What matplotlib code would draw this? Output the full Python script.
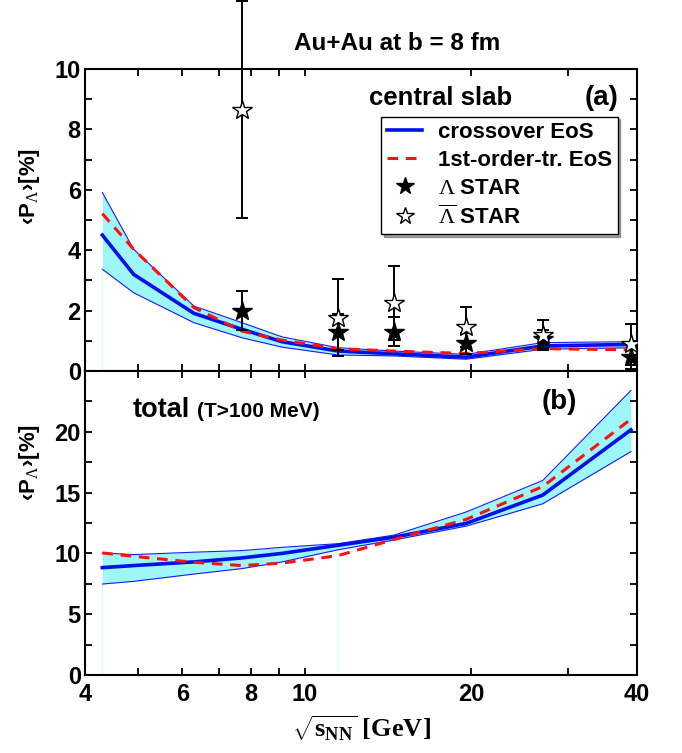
import matplotlib
matplotlib.use('Agg')
import matplotlib.pyplot as plt
from matplotlib.lines import Line2D
from matplotlib.ticker import FixedLocator, NullFormatter, FixedFormatter, MultipleLocator

plt.rcParams['font.family'] = ['Liberation Sans', 'DejaVu Sans']
plt.rcParams['mathtext.fontset'] = 'custom'
plt.rcParams['mathtext.rm'] = 'Liberation Serif'
plt.rcParams['mathtext.it'] = 'Liberation Serif:italic'
plt.rcParams['mathtext.bf'] = 'Liberation Sans:bold'
plt.rcParams['mathtext.sf'] = 'Liberation Serif:bold'

# ---------------- data ----------------
energy = [4.3, 4.9, 6.3, 7.7, 9.1, 11.5, 14.5, 19.6, 27, 39]

# panel (a): central slab
slab_cross = [4.50, 3.20, 1.91, 1.38, 0.97, 0.66, 0.57, 0.46, 0.83, 0.88]
slab_hi    = [5.91, 4.03, 2.15, 1.60, 1.13, 0.77, 0.66, 0.55, 0.94, 0.97]
slab_lo    = [3.37, 2.59, 1.60, 1.10, 0.79, 0.53, 0.50, 0.39, 0.72, 0.77]
slab_first = [5.21, 4.03, 2.10, 1.32, 1.02, 0.74, 0.66, 0.58, 0.74, 0.70]

# panel (b): total (T>100 MeV)
total_cross = [8.83, 9.00, 9.30, 9.63, 10.00, 10.67, 11.33, 12.46, 14.80, 20.16]
total_hi    = [10.04, 9.90, 10.10, 10.23, 10.50, 10.80, 11.50, 13.40, 16.00, 23.40]
total_lo    = [7.48, 7.70, 8.30, 8.75, 9.30, 10.30, 11.10, 12.24, 14.08, 18.37]
total_first = [10.04, 9.76, 9.27, 9.00, 9.20, 9.82, 11.14, 12.79, 15.50, 21.04]

# STAR data
star_energy = [7.7, 11.5, 14.5, 19.6, 27, 39]
lam_P   = [2.0, 1.30, 1.30, 0.92, 1.05, 0.46]
lam_err = [0.65, 0.60, 0.48, 0.35, 0.30, 0.40]
alam_P   = [8.65, 1.77, 2.25, 1.45, 1.18, 0.88]
alam_err = [3.6, 1.27, 1.22, 0.67, 0.50, 0.67]

xticks = [4, 6, 8, 10, 20, 40]
xminor = [5, 7, 9, 30]

# ---------------- figure ----------------
fig = plt.figure(figsize=(6.82, 7.53), dpi=100)
L, R = 85 / 682, 637 / 682
ax1 = fig.add_axes([L, 1 - 371 / 753, R - L, (371 - 69) / 753])
ax2 = fig.add_axes([L, 1 - 675 / 753, R - L, (675 - 371) / 753])

band_col = '#9ef7f7'
edge_col = '#1a1aff'
blue = '#0010e8'
red = '#ff1010'

for ax, cen, hi, lo, fst in [(ax1, slab_cross, slab_hi, slab_lo, slab_first),
                             (ax2, total_cross, total_hi, total_lo, total_first)]:
    ax.fill_between(energy, lo, hi, color=band_col, lw=0, zorder=1)
    ax.plot(energy, hi, color=edge_col, lw=0.8, zorder=2)
    ax.plot(energy, lo, color=edge_col, lw=0.8, zorder=2)
    ax.plot(energy, cen, color=blue, lw=2.6, zorder=3)
    ax.plot(energy, fst, color=red, lw=2.2, dashes=(3.5, 2.5), zorder=4)

# faint rendering lines of the band
ax1.vlines([energy[0]], 0, slab_lo[0], color='#d6fbfb', lw=0.9, zorder=0.5)
ax2.vlines([energy[0], energy[5]], 0, [total_lo[0], total_lo[5]],
           color='#d6fbfb', lw=0.9, zorder=0.5)

# STAR points
ax1.errorbar(star_energy, alam_P, yerr=alam_err, fmt='none', ecolor='black',
             elinewidth=1.4, capsize=4, capthick=1.4, zorder=5, clip_on=False)
ax1.errorbar(star_energy, lam_P, yerr=lam_err, fmt='none', ecolor='black',
             elinewidth=1.4, capsize=4, capthick=1.4, zorder=5)
ax1.plot(star_energy, lam_P, ls='none', marker='*', ms=15, mfc='black',
         mec='black', zorder=6)
ax1.plot(star_energy, alam_P, ls='none', marker='*', ms=15, mfc='white',
         mec='black', mew=1.0, zorder=7)

# axes formatting
for ax in (ax1, ax2):
    ax.set_xscale('log')
    ax.set_xlim(4, 40)
    ax.xaxis.set_major_locator(FixedLocator(xticks))
    ax.xaxis.set_minor_locator(FixedLocator(xminor))
    ax.xaxis.set_minor_formatter(NullFormatter())
    ax.tick_params(which='both', direction='in', top=True, right=True,
                   length=5, width=1.3, labelsize=17, pad=3)
    for s in ax.spines.values():
        s.set_linewidth(1.5)

ax1.set_ylim(0, 10)
ax1.yaxis.set_major_locator(MultipleLocator(2))
ax1.yaxis.set_minor_locator(MultipleLocator(1))
ax1.xaxis.set_major_formatter(NullFormatter())

ax2.set_ylim(0, 25)
ax2.yaxis.set_major_locator(FixedLocator([0, 5, 10, 15, 20]))
ax2.yaxis.set_minor_locator(MultipleLocator(2.5))
ax2.xaxis.set_major_formatter(FixedFormatter([str(t) for t in xticks]))
ax2.tick_params(axis='x', pad=6)

for lab in ax1.get_yticklabels() + ax2.get_yticklabels() + ax2.get_xticklabels():
    lab.set_fontweight('bold')

ylab = r'$\mathbf{‹P}_{\Lambda}\mathbf{›[\%]}$'
ax1.set_ylabel(ylab, fontsize=16)
ax2.set_ylabel(ylab, fontsize=16)
ax1.yaxis.set_label_coords(-0.078, 0.61)
ax2.yaxis.set_label_coords(-0.078, 0.70)

ax2.set_xlabel(r'$\sqrt{\mathsf{s}_{\mathsf{NN}}}$ [GeV]', fontsize=19,
               fontweight='bold', family='Liberation Serif', labelpad=5)

# texts
fig.text(397 / 682, 1 - 43 / 753, 'Au+Au at b = 8 fm', ha='center', va='center',
         fontsize=17.5, fontweight='bold')
ax1.text(0.645, 0.904, 'central slab', transform=ax1.transAxes, ha='center',
         va='center', fontsize=18.5, fontweight='bold')
ax1.text(0.967, 0.904, '(a)', transform=ax1.transAxes, ha='right',
         va='center', fontsize=20, fontweight='bold')
ax2.text(0.087, 0.872, 'total', transform=ax2.transAxes, ha='left',
         va='center', fontsize=19.5, fontweight='bold')
ax2.text(0.203, 0.868, '(T>100 MeV)', transform=ax2.transAxes, ha='left',
         va='center', fontsize=15, fontweight='bold')
ax2.text(0.859, 0.898, '(b)', transform=ax2.transAxes, ha='center',
         va='center', fontsize=20, fontweight='bold')

# legend
handles = [
    Line2D([], [], color=blue, lw=2.6),
    Line2D([], [], color=red, lw=2.2, dashes=(3.5, 2.5)),
    Line2D([], [], ls='none', marker='*', ms=13, mfc='black', mec='black'),
    Line2D([], [], ls='none', marker='*', ms=13, mfc='white', mec='black'),
]
labels = ['crossover EoS', '1st-order-tr. EoS', r'$\Lambda\ \mathbf{STAR}$',
          r'$\overline{\Lambda}\ \mathbf{STAR}$']
leg = ax1.legend(handles, labels, loc='upper right', bbox_to_anchor=(0.965, 0.842),
                 fontsize=16, frameon=True, fancybox=False, shadow=True,
                 edgecolor='black', framealpha=1, handlelength=1.6,
                 handletextpad=0.7, labelspacing=0.3, borderpad=0.25,
                 borderaxespad=0)
leg.get_frame().set_linewidth(1.0)
texts = leg.get_texts()
texts[0].set_fontweight('bold')
texts[1].set_fontweight('bold')

fig.savefig('out.png', dpi=100)
